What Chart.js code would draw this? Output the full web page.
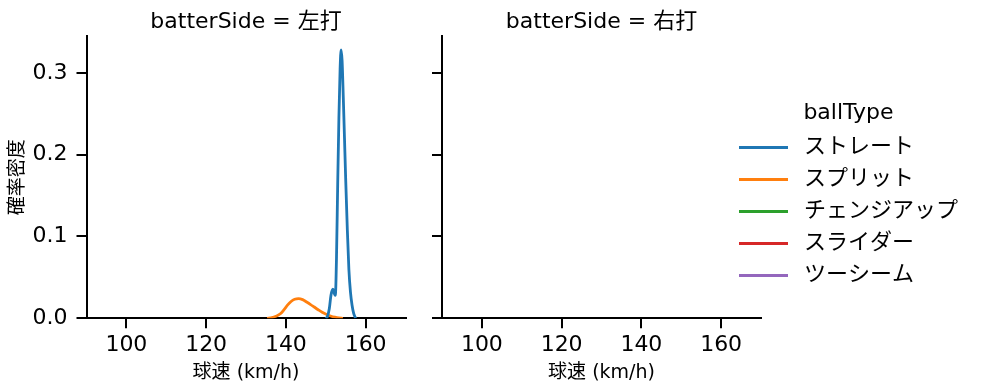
<!DOCTYPE html>
<html><head><meta charset="utf-8">
<script src="https://cdn.jsdelivr.net/npm/chart.js@4/dist/chart.umd.min.js"></script>
<style>
html,body{margin:0;padding:0;background:#fff;}
#wrap{position:relative;width:985px;height:391px;overflow:hidden;background:#fff;}
canvas{position:absolute;top:0;}
</style></head><body>
<div id="wrap">
<canvas id="left" width="430" height="391" style="left:0px"></canvas>
<canvas id="right" width="555" height="391" style="left:430px"></canvas>
<canvas id="legend" width="600" height="391" style="left:719px"></canvas>
</div>
<script>
// ---- data ----
const panelSides = ['左打', '右打'];
const ballTypes = ['ストレート', 'スプリット', 'チェンジアップ', 'スライダー', 'ツーシーム'];
const xTicks = [100, 120, 140, 160];
const yTicks = [0, 0.1, 0.2, 0.3];

// 左打 : ストレート
const leftStraightSpeed   = [150.0, 150.4, 150.9, 151.3, 151.8, 152.1, 152.4, 152.7, 153.0, 153.3, 153.6, 153.85, 154.1, 154.4, 154.7, 155.0, 155.4, 155.8, 156.2, 156.6, 157.0, 157.5];
const leftStraightDensity = [0.0, 0.002, 0.012, 0.028, 0.0355, 0.031, 0.028, 0.075, 0.165, 0.245, 0.305, 0.328, 0.315, 0.27, 0.22, 0.17, 0.11, 0.06, 0.032, 0.016, 0.006, 0.0];
// 左打 : スプリット
const leftSplitSpeed   = [135.3, 136.5, 137.5, 138.7, 139.6, 140.4, 141.3, 142.2, 143.2, 144.2, 145.2, 146.2, 147.1, 148.1, 149.1, 150.1, 151.2, 152.3, 153.3, 154.3];
const leftSplitDensity = [0.0, 0.0008, 0.0025, 0.0058, 0.011, 0.016, 0.0205, 0.0232, 0.0241, 0.0228, 0.0199, 0.0168, 0.0138, 0.0105, 0.0074, 0.0049, 0.0028, 0.0013, 0.0004, 0.0];
// 左打 : others (no data)
const leftChangeupSpeed = [], leftChangeupDensity = [];
const leftSliderSpeed = [], leftSliderDensity = [];
const leftTwoSeamSpeed = [], leftTwoSeamDensity = [];
// 右打 : no data
const rightStraightSpeed = [], rightStraightDensity = [];
const rightSplitSpeed = [], rightSplitDensity = [];
const rightChangeupSpeed = [], rightChangeupDensity = [];
const rightSliderSpeed = [], rightSliderDensity = [];
const rightTwoSeamSpeed = [], rightTwoSeamDensity = [];

// ---- styles ----
const seriesColors = ['#1f77b4', '#ff7f0e', '#2ca02c', '#d62728', '#9467bd'];
const FONT = "'DejaVu Sans','Noto Sans CJK JP',sans-serif";
Chart.defaults.font.family = FONT;
Chart.defaults.color = '#000';

function pts(xs, ys) { return xs.map((x, i) => ({x: x, y: ys[i]})); }
function makeDatasets(list) {
  return list.map((p, i) => ({
    label: ballTypes[i],
    data: pts(p[0], p[1]),
    borderColor: seriesColors[i],
    backgroundColor: seriesColors[i],
    borderWidth: 2.8,
    pointRadius: 0,
    tension: 0.4,
    cubicInterpolationMode: 'monotone',
    fill: false
  }));
}
const axisGrid = {drawOnChartArea: false, drawTicks: true, tickLength: 10, tickWidth: 2, tickColor: '#000', color: '#000', lineWidth: 2};
const axisBorder = {display: true, color: '#000', width: 2};

function makeScales(showY, yWidth) {
  return {
    x: {
      type: 'linear', min: 90, max: 170,
      afterBuildTicks: s => { s.ticks = xTicks.map(v => ({value: v})); },
      ticks: {font: {size: 22}, padding: 4, autoSkip: false, maxRotation: 0, callback: v => String(v)},
      grid: axisGrid, border: axisBorder,
      title: {display: true, text: '球速 (km/h)', font: {size: 19}, padding: {top: 0, bottom: 6.6}},
      afterFit: s => { s.height = 72.7; }
    },
    y: {
      type: 'linear', min: 0, max: 0.345,
      afterBuildTicks: s => { s.ticks = yTicks.map(v => ({value: v})); },
      ticks: {display: showY, font: {size: 22}, padding: 9, callback: v => v.toFixed(1)},
      grid: axisGrid, border: axisBorder,
      title: {display: showY, text: '確率密度', font: {size: 19}, padding: {top: 7, bottom: 0}},
      afterFit: s => { s.width = yWidth; }
    }
  };
}
function makePanel(id, side, series, showY, yWidth, padRight) {
  return new Chart(document.getElementById(id), {
    type: 'line',
    data: {datasets: makeDatasets(series)},
    options: {
      responsive: false, animation: false, devicePixelRatio: 1,
      layout: {padding: {left: 0, right: padRight, top: 0, bottom: 0}},
      scales: makeScales(showY, yWidth),
      plugins: {
        legend: {display: false},
        tooltip: {enabled: false},
        title: {display: true, text: 'batterSide = ' + side, fullSize: false, color: '#000',
                font: {size: 22, weight: 'normal'}, padding: {top: 9, bottom: 0.6}}
      }
    }
  });
}

makePanel('left', panelSides[0], [
  [leftStraightSpeed, leftStraightDensity],
  [leftSplitSpeed, leftSplitDensity],
  [leftChangeupSpeed, leftChangeupDensity],
  [leftSliderSpeed, leftSliderDensity],
  [leftTwoSeamSpeed, leftTwoSeamDensity]
], true, 86.5, 24.5);

makePanel('right', panelSides[1], [
  [rightStraightSpeed, rightStraightDensity],
  [rightSplitSpeed, rightSplitDensity],
  [rightChangeupSpeed, rightChangeupDensity],
  [rightSliderSpeed, rightSliderDensity],
  [rightTwoSeamSpeed, rightTwoSeamDensity]
], false, 12, 224);

// legend line markers
function lineMarker(color) {
  const c = document.createElement('canvas');
  c.width = 54; c.height = 3;
  const g = c.getContext('2d');
  g.fillStyle = color;
  g.fillRect(0, 0, 49, 3);
  return c;
}
const markers = seriesColors.map(lineMarker);

new Chart(document.getElementById('legend'), {
  type: 'line',
  data: {datasets: ballTypes.map((t, i) => ({label: t, data: [], borderColor: seriesColors[i], backgroundColor: seriesColors[i]}))},
  options: {
    responsive: false, animation: false, devicePixelRatio: 1,
    layout: {padding: {left: 10, top: 7, right: 0, bottom: 0}},
    scales: {x: {display: false}, y: {display: false}},
    plugins: {
      tooltip: {enabled: false},
      title: {display: false},
      legend: {
        display: true, position: 'left', align: 'center',
        labels: {
          usePointStyle: true, pointStyleWidth: 54, boxHeight: 3, padding: 10,
          font: {size: 22}, color: '#000',
          generateLabels: chart => chart.data.datasets.map((ds, i) => ({
            text: ds.label, fillStyle: seriesColors[i], strokeStyle: seriesColors[i],
            lineWidth: 0, pointStyle: markers[i], hidden: false, datasetIndex: i, fontColor: '#000'
          }))
        },
        title: {display: true, text: 'ballType', color: '#000', font: {size: 22, lineHeight: 1}, padding: {top: 0, bottom: 2}}
      }
    }
  }
});
</script>
</body></html>
